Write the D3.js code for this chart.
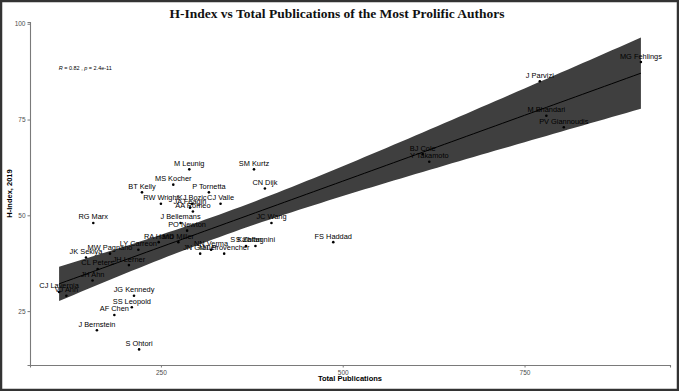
<!DOCTYPE html>
<html><head><meta charset="utf-8">
<script src="https://cdn.jsdelivr.net/npm/d3@7"></script>
<style>html,body{margin:0;padding:0;background:#fff;}svg{display:block;}</style>
</head><body>
<svg id="chart" width="679" height="391"></svg>
<script>
const authors = ["MG Fehlings","J Parvizi","M Bhandari","PV Giannoudis","BJ Cole","Y Takamoto","FS Haddad","JC Wang","CN Dijk","SM Kurtz","S Zaffagnini","S Kalbian","MT Provencher","JN Grauer","NN Verma","CJ Valle","P Tornetta","M Leunig","AA Romeo","KJ Bozic","JA Feagin","RW Wright","MS Kocher","BT Kelly","J Bellemans","PO Newton","RA Hand","MD Miller","LY Carreon","MW Pagnano","JK Sekiya","JH Lerner","CL Peters","JH Ahn","CJ Lavernia","VJ Ahn","JG Kennedy","SS Leopold","AF Chen","J Bernstein","S Ohtori","RG Marx"];
const publications = [910,771,780,804,610,619,487,402,393,378,380,367,337,304,319,332,316,289,294,293,290,250,267,224,277,286,247,274,219,180,147,206,163,156,110,120,213,210,186,162,220,157];
const hIndex = [90,85,76,73,66,64,43,48,57,62,42,42,40,40,41,53,56,62,51,53,52,53,58,56,48,46,43,43,41,40,39,37,36,33,30,29,29,26,24,20,15,48];
const xTicks = [250,500,750];
const yTicks = [25,50,75,100];

const svg = d3.select("#chart");
const W = 679, H = 391;
const panel = {left:30, right:670, top:22, bottom:365};

// linear fit (as geom_smooth(method = "lm"))
const n = publications.length;
const mx = d3.mean(publications), my = d3.mean(hIndex);
let sxx=0, sxy=0;
for(let i=0;i<n;i++){ sxx += (publications[i]-mx)**2; sxy += (publications[i]-mx)*(hIndex[i]-my); }
const b = sxy/sxx, a = my - b*mx;
let sse=0; for(let i=0;i<n;i++){ sse += (hIndex[i]-(a+b*publications[i]))**2; }
const s = Math.sqrt(sse/(n-2));
const tq = 2.021;
const xmin = d3.min(publications), xmax = d3.max(publications);
const fit = d3.range(0,81).map(k=>{
  const xv = xmin + (xmax-xmin)*k/80;
  const yv = a + b*xv;
  const se = s*Math.sqrt(1/n + (xv-mx)**2/sxx);
  return {x:xv, y:yv, lo:yv-tq*se, hi:yv+tq*se};
});

const allY = hIndex.concat(fit.map(d=>d.lo), fit.map(d=>d.hi));
const y0 = d3.min(allY), y1 = d3.max(allY);
const xr = xmax-xmin, yr = y1-y0;
const x = d3.scaleLinear().domain([xmin-0.05*xr, xmax+0.05*xr]).range([panel.left, panel.right]);
const y = d3.scaleLinear().domain([y0-0.05*yr, y1+0.05*yr]).range([panel.bottom, panel.top]);

// frame
svg.append("rect").attr("x",1).attr("y",1).attr("width",W-2).attr("height",H-2)
  .attr("fill","none").attr("stroke","#333").attr("stroke-width",2.5);

// title
svg.append("text").attr("x",337).attr("y",18).attr("text-anchor","middle")
  .attr("font-family","'Liberation Serif','Times New Roman',serif").attr("font-weight","bold")
  .attr("font-size",13.5).attr("fill","#111").text("H-Index vs Total Publications of the Most Prolific Authors");

// band
svg.append("path").datum(fit)
  .attr("d", d3.area().x(d=>x(d.x)).y0(d=>y(d.lo)).y1(d=>y(d.hi)))
  .attr("fill","#3f3f3f");
svg.append("path").datum(fit)
  .attr("d", d3.line().x(d=>x(d.x)).y(d=>y(d.y)))
  .attr("fill","none").attr("stroke","#000").attr("stroke-width",1);

// axes
const xAxis = svg.append("g").attr("transform",`translate(0,${panel.bottom})`)
  .call(d3.axisBottom(x).tickValues(xTicks).tickSize(2.5).tickPadding(3));
const yAxis = svg.append("g").attr("transform",`translate(${panel.left},0)`)
  .call(d3.axisLeft(y).tickValues(yTicks).tickSize(2.5).tickPadding(2));
[xAxis,yAxis].forEach(g=>{
  g.select(".domain").attr("stroke","#7a7a7a").attr("stroke-width",1.1);
  g.selectAll(".tick line").attr("stroke","#7a7a7a");
  g.selectAll(".tick text").attr("font-family","'Liberation Sans',Arial,sans-serif").attr("font-size",6.5).attr("fill","#4d4d4d");
});

// axis titles
svg.append("text").attr("x",(panel.left+panel.right)/2).attr("y",381).attr("text-anchor","middle")
  .attr("font-family","'Liberation Sans',Arial,sans-serif").attr("font-weight","bold").attr("font-size",7.5)
  .text("Total Publications");
svg.append("text").attr("transform",`translate(12,${(panel.top+panel.bottom)/2}) rotate(-90)`).attr("text-anchor","middle")
  .attr("font-family","'Liberation Sans',Arial,sans-serif").attr("font-weight","bold").attr("font-size",7.5)
  .text("H-Index, 2019");

// stats annotation
const st = svg.append("text").attr("x",x(146)).attr("y",70).attr("text-anchor","middle")
  .attr("font-family","'Liberation Sans',Arial,sans-serif").attr("font-size",5.5).attr("fill","#000");
st.append("tspan").attr("font-style","italic").text("R");
st.append("tspan").text(" = 0.82 , ");
st.append("tspan").attr("font-style","italic").text("p");
st.append("tspan").text(" = 2.4e-11");

// points
const pts = authors.map((nm,i)=>({name:nm, x:publications[i], y:hIndex[i]}));
svg.append("g").selectAll("circle").data(pts).join("circle")
  .attr("cx",d=>x(d.x)).attr("cy",d=>y(d.y)).attr("r",1.3).attr("fill","#000");
svg.append("g").selectAll("text").data(pts).join("text")
  .attr("x",d=>x(d.x)).attr("y",d=>y(d.y)-3.5).attr("text-anchor","middle")
  .attr("font-family","'Liberation Sans',Arial,sans-serif").attr("font-size",7.4).attr("fill","#000")
  .text(d=>d.name);
</script>
</body></html>
